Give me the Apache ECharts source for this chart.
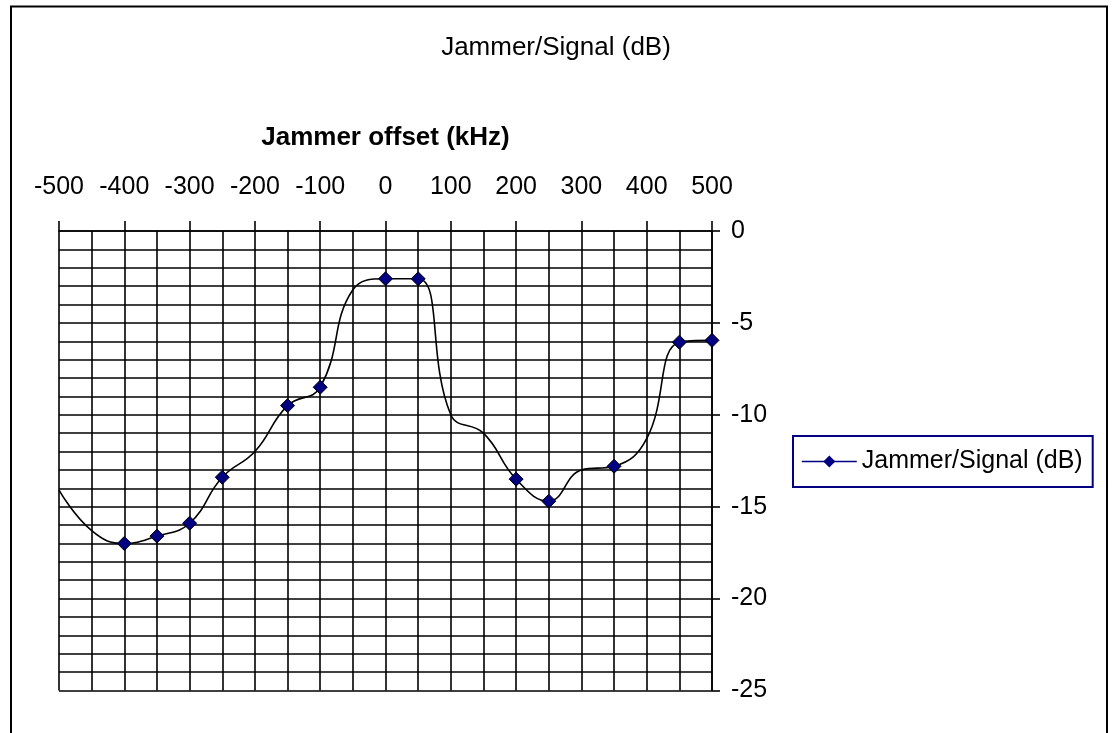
<!DOCTYPE html>
<html>
<head>
<meta charset="utf-8">
<script src="https://cdn.jsdelivr.net/npm/echarts@6/dist/echarts.min.js"></script>
<style>
html,body{margin:0;padding:0;background:#fff;}
#chart{width:1112px;height:733px;}
</style>
</head>
<body>
<div id="chart"></div>
<script>
// Data
const offsetsKHz = [-500,-450,-400,-350,-300,-250,-200,-150,-100,-50,0,50,100,150,200,250,300,350,400,450,500];
const jammerSignalDb = [-14.1,-16.3,-17.0,-16.6,-15.9,-13.4,-12.0,-9.5,-8.5,-3.2,-2.6,-2.6,-10.0,-11.0,-13.5,-14.7,-13.0,-12.8,-11.3,-6.05,-5.95];
const markedOffsets = [-400,-350,-300,-250,-150,-100,0,50,200,250,350,450,500];
const seriesName = 'Jammer/Signal (dB)';
const chartTitle = 'Jammer/Signal (dB)';
const xAxisName = 'Jammer offset (kHz)';

const seriesData = offsetsKHz.map((x, i) => {
  const item = { value: [x, jammerSignalDb[i]] };
  if (markedOffsets.indexOf(x) < 0) item.symbol = 'none';
  return item;
});

const FONT = '"Liberation Sans", Arial, Helvetica, sans-serif';
const GRID_W = 1.6;
const chart = echarts.init(document.getElementById('chart'), null, { renderer: 'canvas' });
chart.setOption({
  backgroundColor: '#fff',
  animation: false,
  textStyle: { fontFamily: FONT, color: '#000' },
  graphic: [{
    type: 'rect',
    shape: { x: 11, y: 6.5, width: 1096, height: 780 },
    style: { fill: 'none', stroke: '#000', lineWidth: 2 },
    silent: true
  }],
  title: {
    text: chartTitle,
    left: 'center',
    top: 35,
    padding: 0,
    textStyle: { fontFamily: FONT, fontSize: 26, fontWeight: 'normal', color: '#000' }
  },
  legend: {
    data: [seriesName],
    left: 793,
    top: 436,
    orient: 'vertical',
    padding: [13, 10, 13, 8],
    itemWidth: 55,
    itemHeight: 15,
    borderColor: '#000080',
    borderWidth: 2,
    backgroundColor: '#fff',
    lineStyle: { color: '#000080', width: 1.6 },
    itemStyle: { color: '#000080', borderWidth: 0 },
    textStyle: { fontFamily: FONT, fontSize: 25, color: '#000' }
  },
  grid: { left: 59, right: 400, top: 231, bottom: 42.5, containLabel: false },
  xAxis: {
    type: 'value',
    position: 'top',
    min: -500,
    max: 500,
    interval: 100,
    name: xAxisName,
    nameLocation: 'middle',
    nameGap: 80,
    nameTextStyle: { fontFamily: FONT, fontSize: 26, fontWeight: 'bold', color: '#000' },
    axisLine: { show: true, onZero: false, lineStyle: { color: '#000', width: GRID_W } },
    axisTick: { show: true, inside: false, length: 10, lineStyle: { color: '#000', width: GRID_W } },
    axisLabel: { fontFamily: FONT, fontSize: 25, color: '#000', margin: 31 },
    splitLine: { show: true, lineStyle: { color: '#000', width: GRID_W } },
    minorTick: { show: false, splitNumber: 2 },
    minorSplitLine: { show: true, lineStyle: { color: '#000', width: GRID_W } }
  },
  yAxis: {
    type: 'value',
    position: 'right',
    min: -25,
    max: 0,
    interval: 5,
    axisLine: { show: true, onZero: false, lineStyle: { color: '#000', width: GRID_W } },
    axisTick: { show: true, inside: false, length: 8, lineStyle: { color: '#000', width: GRID_W } },
    axisLabel: { fontFamily: FONT, fontSize: 25, color: '#000', margin: 19 },
    splitLine: { show: true, lineStyle: { color: '#000', width: GRID_W } },
    minorTick: { show: false, splitNumber: 5 },
    minorSplitLine: { show: true, lineStyle: { color: '#000', width: GRID_W } }
  },
  series: [{
    name: seriesName,
    type: 'line',
    data: seriesData,
    smooth: 0.45,
    symbol: 'diamond',
    symbolSize: 14,
    showAllSymbol: true,
    clip: true,
    lineStyle: { color: '#000', width: 1.6 },
    itemStyle: { color: '#000080', borderColor: '#000', borderWidth: 1 },
    emphasis: { disabled: true }
  }]
});
</script>
</body>
</html>
